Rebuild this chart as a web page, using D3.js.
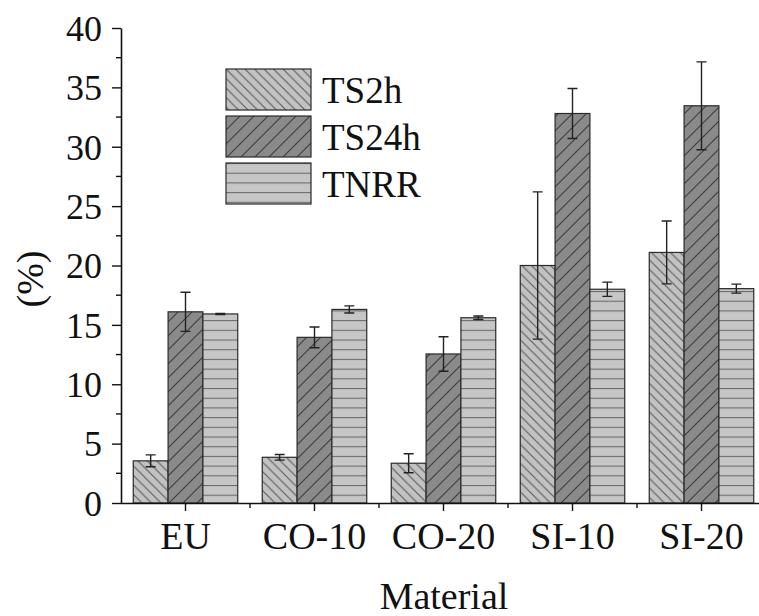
<!DOCTYPE html>
<html>
<head>
<meta charset="utf-8">
<script src="https://cdn.jsdelivr.net/npm/d3@7"></script>
<style>
  body { margin: 0; background: #fff; }
  svg { display: block; }
  text { font-family: "Liberation Serif", "Times New Roman", serif; fill: #111; }
</style>
</head>
<body>
<svg id="chart" width="759" height="616"></svg>
<script>
// data
const categories = ["EU", "CO-10", "CO-20", "SI-10", "SI-20"];
const seriesNames = ["TS2h", "TS24h", "TNRR"];
const ts2h = [3.55, 3.85, 3.35, 20.0, 21.1];
const ts2hErr = [0.5, 0.24, 0.8, 6.2, 2.65];
const ts24h = [16.1, 13.95, 12.55, 32.8, 33.45];
const ts24hErr = [1.65, 0.87, 1.45, 2.1, 3.7];
const tnrr = [15.92, 16.3, 15.6, 18.0, 18.05];
const tnrrErr = [0.05, 0.3, 0.15, 0.6, 0.38];
const yTicks = [0, 5, 10, 15, 20, 25, 30, 35, 40];

const values = [ts2h, ts24h, tnrr];
const errors = [ts2hErr, ts24hErr, tnrrErr];

const margin = {left: 121, top: 28, bottom: 503};
const svg = d3.select("#chart");

// patterns
const defs = svg.append("defs");
const patterns = [
    {id: "pTS2h", fill: "#c2c2c2", stroke: "#5a5a5a", size: 9.5, d: "M0,0 L9.5,9.5 M-4.75,4.75 L4.75,14.25 M4.75,-4.75 L14.25,4.75"},
    {id: "pTS24h", fill: "#8a8a8a", stroke: "#3c3c3c", size: 14, d: "M0,14 L14,0 M-7,7 L7,-7 M7,21 L21,7"},
    {id: "pTNRR", fill: "#c6c6c6", stroke: "#6a6a6a", size: 9.7, d: "M0,0.5 L9.7,0.5"}
];
patterns.forEach(p => {
    const pat = defs.append("pattern")
        .attr("id", p.id)
        .attr("patternUnits", "userSpaceOnUse")
        .attr("width", p.size)
        .attr("height", p.size);
    pat.append("rect").attr("width", p.size).attr("height", p.size).attr("fill", p.fill);
    pat.append("path").attr("d", p.d).attr("stroke", p.stroke).attr("stroke-width", 1.1);
});

// scales
const x = d3.scaleBand()
    .domain(categories)
    .range([margin.left, margin.left + 5 * 129])
    .paddingInner(0.19)
    .paddingOuter(0.095);

const xSub = d3.scaleBand()
    .domain(seriesNames)
    .range([0, x.bandwidth()]);

const y = d3.scaleLinear()
    .domain([0, 40])
    .range([margin.bottom, margin.top]);

// bars
seriesNames.forEach((name, si) => {
    svg.append("g")
        .selectAll("rect")
        .data(categories)
        .join("rect")
        .attr("x", d => x(d) + xSub(name))
        .attr("y", (d, i) => y(values[si][i]))
        .attr("width", xSub.bandwidth())
        .attr("height", (d, i) => y(0) - y(values[si][i]))
        .attr("fill", `url(#${patterns[si].id})`)
        .attr("stroke", "#2a2a2a")
        .attr("stroke-width", 1.2);
});

// error bars
seriesNames.forEach((name, si) => {
    const g = svg.append("g")
        .attr("stroke", "#222")
        .attr("stroke-width", 1.4)
        .attr("fill", "none");
    g.selectAll("path")
        .data(categories)
        .join("path")
        .attr("d", (d, i) => {
            const cx = x(d) + xSub(name) + xSub.bandwidth() / 2;
            const hi = y(values[si][i] + errors[si][i]);
            const lo = y(values[si][i] - errors[si][i]);
            return `M${cx - 5},${hi} H${cx + 5} M${cx},${hi} V${lo} M${cx - 5},${lo} H${cx + 5}`;
        });
});

// y axis
const yAxis = svg.append("g")
    .attr("transform", `translate(${margin.left},0)`)
    .call(d3.axisLeft(y).tickValues(yTicks).tickSize(9).tickPadding(10).tickSizeOuter(0));
yAxis.select(".domain").attr("stroke", "#111").attr("stroke-width", 1.6);
yAxis.selectAll(".tick line").attr("stroke", "#111").attr("stroke-width", 1.4);
yAxis.selectAll(".tick text")
    .attr("font-size", 36)
    .attr("dy", "0.34em")
    .attr("fill", "#111");

// y minor ticks
svg.append("g")
    .selectAll("line")
    .data(d3.range(2.5, 40, 5))
    .join("line")
    .attr("x1", margin.left - 5)
    .attr("x2", margin.left)
    .attr("y1", d => y(d))
    .attr("y2", d => y(d))
    .attr("stroke", "#111")
    .attr("stroke-width", 1.4);

// x axis
const xAxis = svg.append("g")
    .attr("transform", `translate(0,${margin.bottom})`)
    .call(d3.axisBottom(x).tickSize(8).tickPadding(11).tickSizeOuter(0));
xAxis.select(".domain").attr("stroke", "#111").attr("stroke-width", 1.6)
    .attr("d", `M${margin.left},0.5H759`);
xAxis.selectAll(".tick line").attr("stroke", "#111").attr("stroke-width", 1.4);
xAxis.selectAll(".tick text")
    .attr("font-size", 38)
    .attr("fill", "#111");

// x minor ticks between categories
svg.append("g")
    .selectAll("line")
    .data(categories.slice(1))
    .join("line")
    .attr("x1", d => x(d) - x.step() * x.paddingInner() / 2)
    .attr("x2", d => x(d) - x.step() * x.paddingInner() / 2)
    .attr("y1", margin.bottom)
    .attr("y2", margin.bottom + 5)
    .attr("stroke", "#111")
    .attr("stroke-width", 1.4);

// axis titles
svg.append("text")
    .attr("transform", "translate(43,279) rotate(-90)")
    .attr("text-anchor", "middle")
    .attr("font-size", 38)
    .text("(%)");

svg.append("text")
    .attr("x", 444)
    .attr("y", 609)
    .attr("text-anchor", "middle")
    .attr("font-size", 38)
    .text("Material");

// legend
const legend = svg.append("g").attr("transform", "translate(226,69)");
seriesNames.forEach((name, si) => {
    const row = legend.append("g").attr("transform", `translate(0,${si * 47})`);
    row.append("rect")
        .attr("width", 85)
        .attr("height", 41)
        .attr("fill", `url(#${patterns[si].id})`)
        .attr("stroke", "#2a2a2a")
        .attr("stroke-width", 1.2);
    row.append("text")
        .attr("x", 96)
        .attr("y", 21)
        .attr("dy", "0.35em")
        .attr("font-size", 37)
        .text(name);
});
</script>
</body>
</html>
